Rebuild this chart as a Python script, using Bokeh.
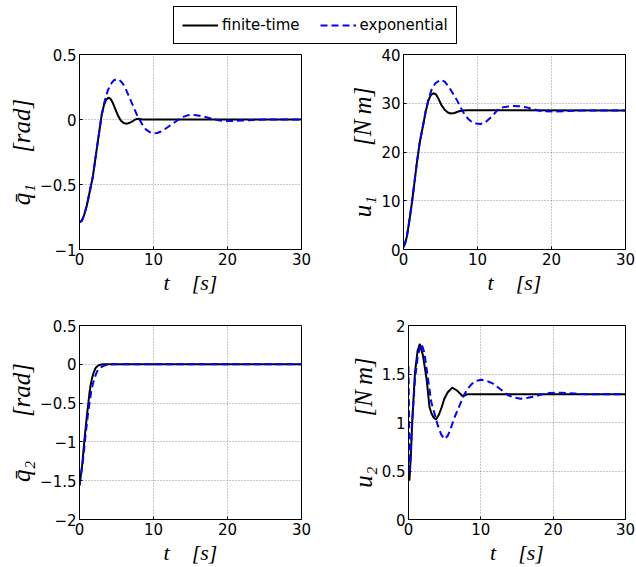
import math
from bokeh.plotting import figure
from bokeh.models import Range1d, FixedTicker, Legend, LegendItem
from bokeh.layouts import column, row
from bokeh.embed import file_html
from bokeh.resources import INLINE

# ---------------- data ----------------
x_ticks = [0, 10, 20, 30]
q1_ticks = [-1, -0.5, 0, 0.5]
u1_ticks = [0, 10, 20, 30, 40]
q2_ticks = [-2, -1.5, -1, -0.5, 0, 0.5]
u2_ticks = [0, 0.5, 1, 1.5, 2]

series_names = ["finite-time", "exponential"]

# q1 bar, finite-time
t_q1_ft = [0, 0.3, 0.6, 1.0, 1.4, 1.8, 2.2, 2.6, 3.0, 3.3, 3.6, 3.9, 4.2, 4.5, 4.8,
           5.2, 5.6, 6.0, 6.4, 6.8, 7.2, 7.6, 8.0, 8.5, 30]
q1_ft = [-0.79, -0.78, -0.74, -0.66, -0.55, -0.44, -0.28, -0.12, 0.035, 0.11, 0.152,
         0.168, 0.158, 0.128, 0.085, 0.03, -0.01, -0.028, -0.032, -0.025, -0.012,
         0.002, 0.006, 0.0, 0.0]
# q1 bar, exponential
t_q1_exp = [0, 0.3, 0.6, 1.0, 1.4, 1.8, 2.2, 2.6, 3.0, 3.4, 3.8, 4.2, 4.6, 5.0, 5.4,
            5.8, 6.2, 6.6, 7.0, 7.4, 7.8, 8.2, 8.6, 9.0, 9.5, 10.0, 10.5, 11.0, 11.5,
            12.0, 12.5, 13.0, 13.5, 14.0, 14.5, 15.0, 15.5, 16.0, 16.5, 17.0, 17.5,
            18.0, 19.0, 20.0, 21.0, 22.0, 23.0, 24.0, 25.0, 30]
q1_exp = [-0.79, -0.78, -0.74, -0.66, -0.55, -0.44, -0.28, -0.12, 0.035, 0.14, 0.22,
          0.27, 0.30, 0.31, 0.305, 0.28, 0.24, 0.19, 0.135, 0.085, 0.03, -0.01,
          -0.05, -0.078, -0.097, -0.107, -0.104, -0.092, -0.075, -0.056, -0.036,
          -0.015, 0.005, 0.02, 0.03, 0.035, 0.035, 0.031, 0.026, 0.02, 0.012, 0.004,
          -0.008, -0.012, -0.011, -0.008, -0.005, -0.002, 0.0, 0.0]

# u1, finite-time
t_u1_ft = [0, 0.2, 0.45, 0.8, 1.13, 1.5, 1.8, 2.2, 2.7, 3.0, 3.4, 3.7, 4.05, 4.4, 4.7,
           5.1, 5.6, 6.0, 6.4, 6.9, 7.4, 8.0, 8.6, 30]
u1_ft = [0.5, 1.2, 2.6, 6.0, 9.5, 14.0, 17.7, 22.0, 25.9, 28.3, 30.7, 31.7, 32.05,
         31.8, 31.0, 29.7, 28.6, 28.1, 27.9, 28.0, 28.3, 28.5, 28.56, 28.5]
# u1, exponential
t_u1_exp = [0, 0.2, 0.45, 0.8, 1.13, 1.5, 1.8, 2.2, 2.7, 3.0, 3.4, 3.8, 4.3, 5.05,
            5.6, 6.1, 6.6, 7.2, 7.8, 8.3, 8.8, 9.2, 9.8, 10.4, 11.0, 11.9, 12.7,
            13.5, 14.7, 15.6, 16.5, 17.5, 18.7, 20.5, 22.3, 24.0, 30]
u1_exp = [0.5, 1.2, 2.6, 6.0, 9.5, 14.0, 17.7, 22.0, 25.9, 28.4, 31.0, 32.8, 34.1,
          34.8, 34.4, 33.4, 32.2, 30.7, 28.9, 27.6, 26.7, 26.2, 25.85, 25.75, 26.0,
          27.2, 28.6, 29.2, 29.45, 29.4, 29.2, 28.8, 28.35, 28.3, 28.4, 28.5, 28.5]

# q2 bar, finite-time
t_q2_ft = [0, 0.36, 0.68, 1.0, 1.35, 1.5, 1.7, 1.9, 2.16, 2.4, 2.7, 3.15, 30]
q2_ft = [-1.56, -1.30, -0.96, -0.665, -0.37, -0.27, -0.178, -0.11, -0.05, -0.025,
         -0.008, 0.0, 0.0]
# q2 bar, exponential
t_q2_exp = [0, 0.45, 0.81, 1.17, 1.58, 1.8, 2.03, 2.25, 2.48, 2.75, 3.06, 3.6, 4.0,
            4.5, 30]
q2_exp = [-1.56, -1.26, -0.92, -0.62, -0.35, -0.255, -0.18, -0.12, -0.072, -0.048,
          -0.03, -0.008, -0.003, 0.0, 0.0]

# u2, finite-time
t_u2_ft = [0, 0.12, 0.3, 0.54, 0.9, 1.26, 1.57, 2.0, 2.5, 2.9, 3.15, 3.4, 3.8, 4.2,
           4.6, 4.93, 5.4, 6.05, 6.7, 7.1, 7.5, 8.1, 30]
u2_ft = [0.55, 0.40, 0.62, 1.04, 1.52, 1.74, 1.81, 1.69, 1.45, 1.16, 1.10, 1.06,
         1.03, 1.08, 1.16, 1.24, 1.31, 1.36, 1.33, 1.30, 1.27, 1.29, 1.29]
# u2, exponential
t_u2_exp = [0, 0.15, 0.5, 0.9, 1.3, 1.8, 2.2, 2.6, 3.15, 3.6, 4.05, 4.5, 4.95, 5.4,
            5.8, 6.3, 6.8, 7.2, 7.65, 8.2, 8.8, 9.4, 10.1, 10.8, 11.7, 12.4, 13.1,
            13.8, 14.5, 15.5, 16.5, 17.5, 18.5, 19.5, 21.0, 23.0, 25.0, 30]
u2_exp = [1.58, 0.46, 1.0, 1.45, 1.70, 1.81, 1.72, 1.50, 1.21, 1.09, 0.97, 0.88,
          0.83, 0.86, 0.93, 1.04, 1.13, 1.20, 1.28, 1.35, 1.40, 1.43, 1.44, 1.43,
          1.40, 1.36, 1.32, 1.28, 1.26, 1.245, 1.255, 1.27, 1.29, 1.305, 1.306,
          1.298, 1.29, 1.29]

# axis label texts
EM, NB, TH = "\u2003", "\u00a0", "\u2009"
x_label = "t" + EM + "[s]"
y_labels = ["q\u0304\u2081" + EM + NB + "[rad]",
            "u\u2081" + EM + EM + "[N" + TH + "m]",
            "q\u0304\u2082" + EM + NB + NB + NB + "[rad]",
            "u\u2082" + EM + EM + "[N" + TH + "m]"]

# ---------------- styling ----------------
SANS = "DejaVu Sans"
SERIF = "Liberation Serif"
BLUE = "#0000ff"
DASH = "7 4"


def fmt(v):
    s = "%g" % abs(v)
    return ("\u2212" + s) if v < 0 else s


def make_panel(width, height, bl, br, bt, bb, yr, yticks, ylabel):
    p = figure(width=width, height=height, x_range=Range1d(0, 30),
               y_range=Range1d(*yr), output_backend="svg", toolbar_location=None,
               min_border_left=bl, min_border_right=br, min_border_top=bt,
               min_border_bottom=bb)
    p.outline_line_color = "black"
    p.outline_line_alpha = 1
    p.outline_line_width = 1
    p.background_fill_color = "white"
    p.border_fill_color = "white"
    for ax, ticks in ((p.xaxis[0], x_ticks), (p.yaxis[0], yticks)):
        ax.ticker = FixedTicker(ticks=ticks, minor_ticks=[])
        ax.major_label_overrides = {t: fmt(t) for t in ticks}
        ax.major_label_text_font = SANS
        ax.major_label_text_font_size = "15px"
        ax.major_label_text_color = "black"
        ax.major_tick_in = 3
        ax.major_tick_out = 0
        ax.minor_tick_line_color = None
        ax.axis_line_color = "black"
        ax.major_tick_line_color = "black"
        ax.major_label_standoff = 3
        ax.axis_label_text_font = SERIF
        ax.axis_label_text_font_style = "italic"
        ax.axis_label_text_color = "black"
        ax.axis_label_standoff = 2
    p.xaxis[0].axis_label_text_font_size = "22px"
    p.yaxis[0].axis_label_text_font_size = "25px"
    p.xaxis[0].axis_label = x_label
    p.yaxis[0].axis_label = ylabel
    p.grid.grid_line_color = "#8f8f8f"
    p.grid.grid_line_dash = "1 2"
    p.grid.grid_line_width = 1
    return p


def add_lines(p, t1, y1, t2, y2):
    p.line(t1, y1, line_color="black", line_width=2)
    p.line(t2, y2, line_color=BLUE, line_width=2, line_dash=DASH)


# legend strip
nan = float("nan")
lf = figure(width=636, height=46, x_range=Range1d(0, 1), y_range=Range1d(0, 1),
            output_backend="svg", toolbar_location=None, min_border=0,
            x_axis_type=None, y_axis_type=None)
lf.outline_line_color = None
lf.border_fill_color = "white"
r1 = lf.line(x=[nan], y=[nan], line_color="black", line_width=2)
r2 = lf.line(x=[nan], y=[nan], line_color=BLUE, line_width=2, line_dash=DASH)
leg = Legend(items=[LegendItem(label=series_names[0], renderers=[r1]),
                    LegendItem(label=series_names[1], renderers=[r2])],
             orientation="horizontal", location=(173, 2))
leg.border_line_color = "black"
leg.border_line_width = 1
leg.border_line_alpha = 1
leg.background_fill_color = "white"
leg.background_fill_alpha = 1
leg.label_text_font = SANS
leg.label_text_font_size = "15px"
leg.label_text_color = "black"
leg.glyph_width = 36
leg.glyph_height = 20
leg.label_height = 20
leg.label_standoff = 4
leg.spacing = 20
leg.padding = 8
leg.margin = 0
lf.add_layout(leg)

# panels (page has no margin: frames placed at the reference's pixel positions)
p1 = make_panel(346, 254, 79, 45, 8, 51, (-1, 0.5), q1_ticks, y_labels[0])
add_lines(p1, t_q1_ft, q1_ft, t_q1_exp, q1_exp)

p2 = make_panel(290, 254, 57, 11, 8, 51, (0, 40), u1_ticks, y_labels[1])
add_lines(p2, t_u1_ft, u1_ft, t_u1_exp, u1_exp)

p3 = make_panel(346, 267, 79, 45, 25, 46, (-2, 0.5), q2_ticks, y_labels[2])
add_lines(p3, t_q2_ft, q2_ft, t_q2_exp, q2_exp)

p4 = make_panel(290, 267, 57, 11, 25, 46, (0, 2), u2_ticks, y_labels[3])
add_lines(p4, t_u2_ft, u2_ft, t_u2_exp, u2_exp)

layout = column(lf, row(p1, p2), row(p3, p4))

open("out.html", "w").write(file_html(layout, INLINE))
